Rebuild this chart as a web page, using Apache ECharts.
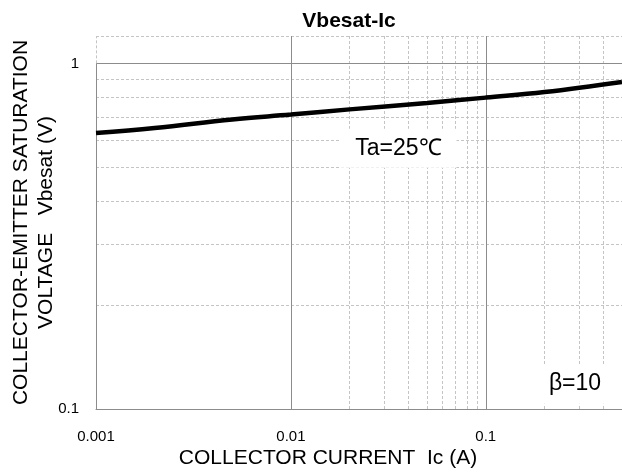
<!DOCTYPE html>
<html>
<head>
<meta charset="utf-8">
<script src="https://cdn.jsdelivr.net/npm/echarts@6/dist/echarts.min.js"></script>
<style>
html,body{margin:0;padding:0;background:#fff;}
#c{width:622px;height:472px;}
</style>
</head>
<body>
<div id="c"></div>
<script>
// Data
var currentA = [0.001, 0.002, 0.005, 0.01, 0.02, 0.05, 0.1, 0.2, 0.5];
var vbesatV  = [0.629, 0.650, 0.688, 0.711, 0.736, 0.768, 0.796, 0.826, 0.884];
var xTickLabels = ['0.001', '0.01', '0.1'];
var yTickLabels = ['0.1', '1'];
var xMajorGrid = [0.01, 0.1];
var xMinorGrid = [0.002,0.003,0.004,0.005,0.006,0.007,0.008,0.009,
                  0.02,0.03,0.04,0.05,0.06,0.07,0.08,0.09,
                  0.2,0.3,0.4];
var yMajorGrid = [1];
var yMinorGrid = [0.2,0.3,0.4,0.5,0.6,0.7,0.8,0.9,1.2];
var yRange = [0.1, 1.2];
var xRange = [0.001, 0.5];
var notes = [
  {text: 'Ta=25\u2103', x: 0.0356, y: 0.568},
  {text: '\u03b2=10', x: 0.287, y: 0.118}
];

function isLabel(v, list){
  for (var i=0;i<list.length;i++){
    if (Math.abs(Math.log10(v) - Math.log10(parseFloat(list[i]))) < 1e-6) return list[i];
  }
  return '';
}

var font = 'Arial, "Liberation Sans", sans-serif';
var gridColor = '#c4c4c4';
var majorColor = '#8c8c8c';
var dash = [3, 2];

var lineData = currentA.map(function(x,i){ return [x, vbesatV[i]]; });

var markLines = [];
xMinorGrid.forEach(function(v){ markLines.push({xAxis: v, lineStyle:{color:gridColor, type:dash, width:1}}); });
yMinorGrid.forEach(function(v){ markLines.push({yAxis: v, lineStyle:{color:gridColor, type:dash, width:1}}); });
xMajorGrid.forEach(function(v){ markLines.push({xAxis: v, lineStyle:{color:majorColor, type:'solid', width:1}}); });
yMajorGrid.forEach(function(v){ markLines.push({yAxis: v, lineStyle:{color:majorColor, type:'solid', width:1}}); });
// left edge: solid up to 1, dashed above
markLines.push([{coord:[xRange[0], yRange[0]], lineStyle:{color:majorColor, type:'solid', width:1}}, {coord:[xRange[0], 1]}]);
markLines.push([{coord:[xRange[0], 1], lineStyle:{color:gridColor, type:dash, width:1}}, {coord:[xRange[0], yRange[1]]}]);

var chart = echarts.init(document.getElementById('c'), null, {renderer:'canvas'});
chart.setOption({
  animation: false,
  backgroundColor: '#fff',
  title: {
    text: 'Vbesat-Ic',
    left: 344, top: 6, textAlign: 'center',
    textStyle: {fontFamily: font, fontWeight: 'bold', fontSize: 21, color: '#000'}
  },
  grid: {left: 96, right: 0, top: 36, bottom: 63, show: false, containLabel: false, outerBoundsMode: 'none'},
  xAxis: {
    type: 'log', logBase: 10, min: xRange[0], max: xRange[1],
    name: 'COLLECTOR CURRENT  Ic (A)', nameLocation: 'middle', nameGap: 39, nameMoveOverlap: false,
    nameTextStyle: {fontFamily: font, fontSize: 21, color: '#000', padding: [0, 62, 0, 0]},
    axisLine: {show: true, lineStyle: {color: majorColor}},
    axisTick: {show: false},
    splitLine: {show: false},
    axisLabel: {margin: 20, fontFamily: font, fontSize: 15, color: '#000', showMaxLabel: false,
      formatter: function(v){ return isLabel(v, xTickLabels); }}
  },
  yAxis: {
    type: 'log', logBase: 10, min: yRange[0], max: yRange[1],
    name: 'COLLECTOR-EMITTER SATURATION\nVOLTAGE   Vbesat (V)', nameLocation: 'middle', nameGap: 38, nameRotate: 90,
    nameMoveOverlap: false,
    nameTextStyle: {fontFamily: font, fontSize: 21, color: '#000', lineHeight: 24.5},
    axisLine: {show: false},
    axisTick: {show: false},
    splitLine: {show: false},
    axisLabel: {margin: 17, fontFamily: font, fontSize: 15, color: '#000', showMaxLabel: false,
      formatter: function(v){ return isLabel(v, yTickLabels); }}
  },
  series: [{
    type: 'line',
    data: lineData,
    smooth: 0.4,
    showSymbol: false,
    lineStyle: {color: '#000', width: 4.5},
    z: 5,
    markLine: {silent: true, symbol: ['none','none'], label: {show: false}, data: markLines, z: 1, animation: false},
    markPoint: {
      silent: true, symbol: 'rect', symbolSize: 0,
      data: notes.map(function(n){
        return {coord: [n.x, n.y], value: n.text,
          label: {show: true, formatter: n.text, position: 'inside', fontFamily: font, fontSize: 23, color: '#000',
            backgroundColor: '#fff', padding: [8, 15]}};
      })
    }
  }]
});
</script>
</body>
</html>
